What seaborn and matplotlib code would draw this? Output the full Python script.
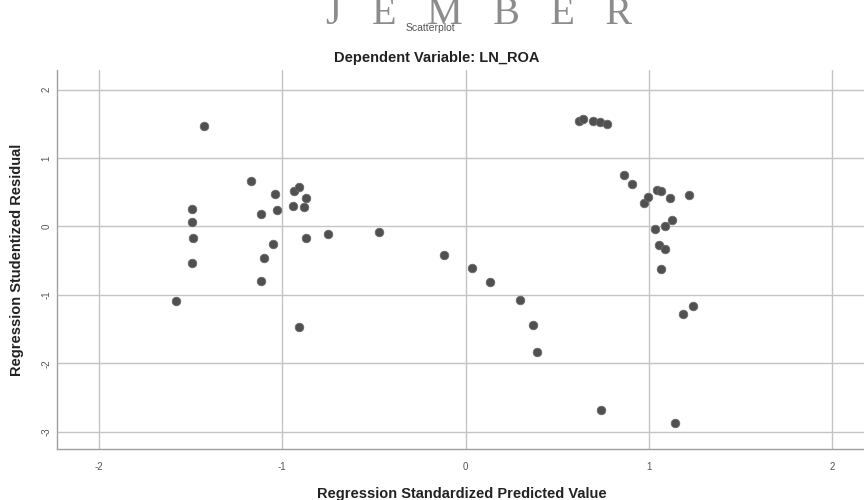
import pandas as pd
import matplotlib.pyplot as plt
import seaborn as sns

# nilai (SPSS scatterplot residual)
pred_value = [
    -1.428, -1.579, -1.494, -1.490, -1.488, -1.491,
    -1.172, -1.117, -1.041, -1.027, -1.049, -1.099, -1.114,
    -0.936, -0.910, -0.939, -0.872, -0.881, -0.868, -0.908, -0.749,
    -0.474, -0.119, 0.034, 0.132, 0.299, 0.366, 0.390,
    0.619, 0.643, 0.694, 0.734, 0.770, 0.741,
    0.865, 0.907, 0.976, 0.994, 1.043, 1.065, 1.117, 1.218,
    1.032, 1.090, 1.125, 1.056, 1.088, 1.067,
    1.145, 1.187, 1.243,
]
stud_resid = [
    1.47, -1.085, 0.25, 0.06, -0.17, -0.54,
    0.67, 0.18, 0.47, 0.245, -0.25, -0.456, -0.797,
    0.52, 0.58, 0.30, 0.41, 0.29, -0.17, -1.47, -0.105,
    -0.076, -0.41, -0.60, -0.816, -1.08, -1.435, -1.835,
    1.547, 1.567, 1.54, 1.528, 1.50, -2.687,
    0.75, 0.62, 0.34, 0.43, 0.54, 0.52, 0.42, 0.46,
    -0.04, 0.0, 0.09, -0.275, -0.335, -0.62,
    -2.877, -1.275, -1.162,
]
x_ticks = [-2, -1, 0, 1, 2]
y_ticks = [-3, -2, -1, 0, 1, 2]

df = pd.DataFrame({'pred': pred_value, 'resid': stud_resid})

sns.set_style('white')
plt.rcParams['font.family'] = ['Liberation Sans', 'DejaVu Sans']

fig = plt.figure(figsize=(8.64, 5), dpi=100)
ax = fig.add_axes([0.066, 0.102, 0.934, 0.758])

ax.grid(True, color='#c4c4c4', linewidth=1)
ax.set_axisbelow(True)
sns.scatterplot(data=df, x='pred', y='resid', ax=ax, s=38,
                color='#505050', edgecolor='#6a6a6a', linewidth=0.6, zorder=3)

ax.set_xlim(-2.229, 2.174)
ax.set_ylim(-3.253, 2.288)
ax.set_xticks(x_ticks)
ax.set_yticks(y_ticks)
ax.set_xticklabels([str(v) for v in x_ticks], fontsize=7, color='#555555')
ax.set_yticklabels([str(v) for v in y_ticks], fontsize=7, color='#555555',
                   rotation=90, va='center')
ax.tick_params(axis='x', length=0, pad=9)
ax.tick_params(axis='y', length=0, pad=4)

for side in ['top', 'right']:
    ax.spines[side].set_visible(False)
for side in ['left', 'bottom']:
    ax.spines[side].set_color('#a0a0a0')
    ax.spines[side].set_linewidth(1)

ax.set_xlabel('Regression Standardized Predicted Value', fontsize=10.5,
              fontweight='bold', color='#222222')
ax.set_ylabel('Regression Studentized Residual', fontsize=10.5,
              fontweight='bold', color='#222222')
ax.xaxis.set_label_coords(0.502, -0.1)
ax.yaxis.set_label_coords(-0.041, 0.5)

# judul dan watermark
fig.text(0.555, 0.952, 'J   E   M   B   E   R', fontsize=29, color='#8c8c8c',
         family='Liberation Serif', ha='center', va='baseline')
fig.text(0.498, 0.944, 'Scatterplot', fontsize=7.5, color='#555555',
         ha='center', va='center')
fig.text(0.505, 0.884, 'Dependent Variable: LN_ROA', fontsize=10.5,
         fontweight='bold', color='#222222', ha='center', va='center')

fig.savefig('out.png', dpi=100)
